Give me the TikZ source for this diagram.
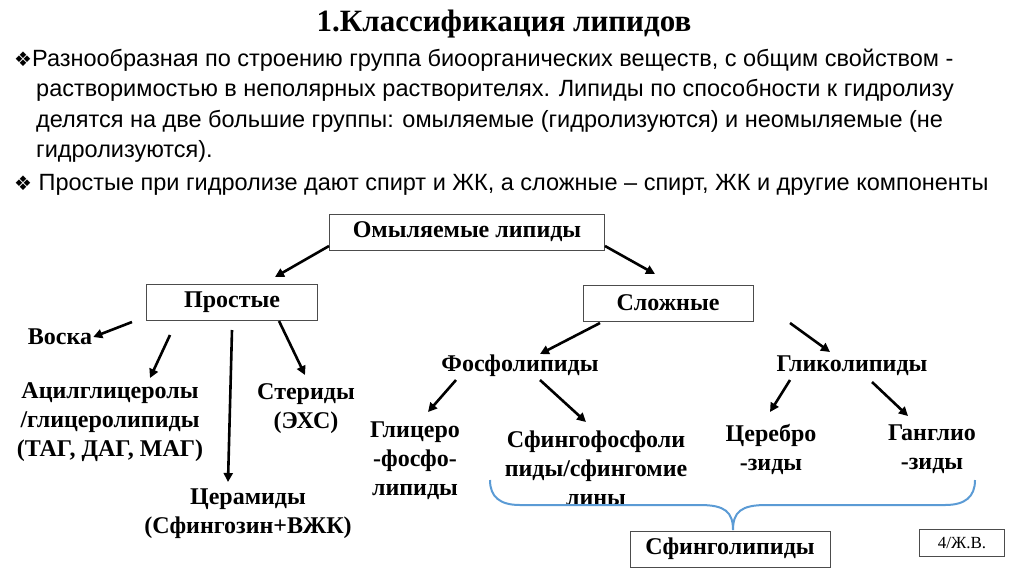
\documentclass[tikz,border=0pt]{standalone}
\usepackage{fontspec}
\setmainfont{Liberation Serif}
\setsansfont{Liberation Sans}
\newfontfamily\djfont{DejaVu Sans}
\usetikzlibrary{arrows.meta}
\begin{document}
\begin{tikzpicture}[x=1pt,y=-1pt,
  lbl/.style={font=\bfseries\fontsize{24}{29}\selectfont,align=center,inner sep=1pt},
  bx/.style={draw=black!70,line width=1pt,minimum height=36pt,font=\bfseries\fontsize{24}{28}\selectfont},
  txt/.style={font=\sffamily\fontsize{23.5}{30}\selectfont,anchor=west,inner sep=0pt},
  arr/.style={-{Triangle[length=9pt,width=9pt]},line width=2.6pt}]
\useasboundingbox (0,0) rectangle (1024,574);
\node[font=\bfseries\fontsize{31}{34}\selectfont] (title) at (504,24) {1.Классификация липидов};
\node[txt] (b1) at (14,60) {{\djfont\fontsize{20}{22}\selectfont ❖}Разнообразная по строению группа биоорганических веществ, с общим свойством -};
\node[txt] (b2) at (36,90) {растворимостью в неполярных растворителях. Липиды по способности к гидролизу};
\node[txt] (b3) at (36,121) {делятся на две большие группы: омыляемые (гидролизуются) и неомыляемые (не};
\node[txt] (b4) at (36,151) {гидролизуются).};
\node[txt] (b5) at (14,185) {{\djfont\fontsize{20}{22}\selectfont ❖} Простые при гидролизе дают спирт и ЖК, а сложные – спирт, ЖК и другие компоненты};

\node[bx,minimum width=275pt] (om) at (467,232) {Омыляемые липиды};
\node[bx,minimum width=171pt] (pr) at (232,302) {Простые};
\node[bx,minimum width=170pt] (sl) at (668,303) {Сложные};
\node[bx,minimum width=200pt] (sf) at (730,549) {Сфинголипиды};
\node[draw=black!70,line width=1pt,minimum width=85pt,minimum height=27pt,font=\fontsize{17}{20}\selectfont] (jv) at (962,543) {4/Ж.В.};

\node[lbl] (vo) at (60,337) {Воска};
\node[lbl] (ac) at (110,422) {Ацилглицеролы\\/глицеролипиды\\(ТАГ, ДАГ, МАГ)};
\node[lbl] (st) at (306,409) {Стериды\\(ЭХС)};
\node[lbl] (ce) at (248,514) {Церамиды\\(Сфингозин+ВЖК)};
\node[lbl] (fo) at (520,366) {Фосфолипиды};
\node[lbl] (gl) at (852,366) {Гликолипиды};
\node[lbl] (gf) at (415,461) {Глицеро\\-фосфо-\\липиды};
\node[lbl] (sfo) at (596,468) {Сфингофосфоли\\пиды/сфингомие\\лины};
\node[lbl] (cer) at (771,449) {Церебро\\-зиды};
\node[lbl] (ga) at (932,449) {Ганглио\\-зиды};

\draw[arr] (om.west |- 0,246) -- (275,277);
\draw[arr] (om.east |- 0,246) -- (655,274);
\draw[arr] (132,322) -- (vo.east);
\draw[arr] (170,335) -- (150,378);
\draw[arr] (232,330) -- (228,482);
\draw[arr] (279,321) -- (305,375);
\draw[arr] (600,323) -- (540,354);
\draw[arr] (790,323) -- (830,352);
\draw[arr] (456,380) -- (428,412);
\draw[arr] (540,380) -- (586,422);
\draw[arr] (790,380) -- (770,412);
\draw[arr] (872,382) -- (908,416);

\coordinate (bl) at (490,480);
\coordinate (br) at (975,480);
\coordinate (bm) at (733,530);
\draw[color={rgb,255:red,91;green,155;blue,213},line width=2pt]
  (bl) .. controls (490,497) and (500,505) .. (520,505) -- (700,505)
  .. controls (725,505) and (733,512) .. (bm)
  .. controls (733,512) and (741,505) .. (766,505) -- (945,505)
  .. controls (965,505) and (975,497) .. (br);
\end{tikzpicture}
\end{document}
